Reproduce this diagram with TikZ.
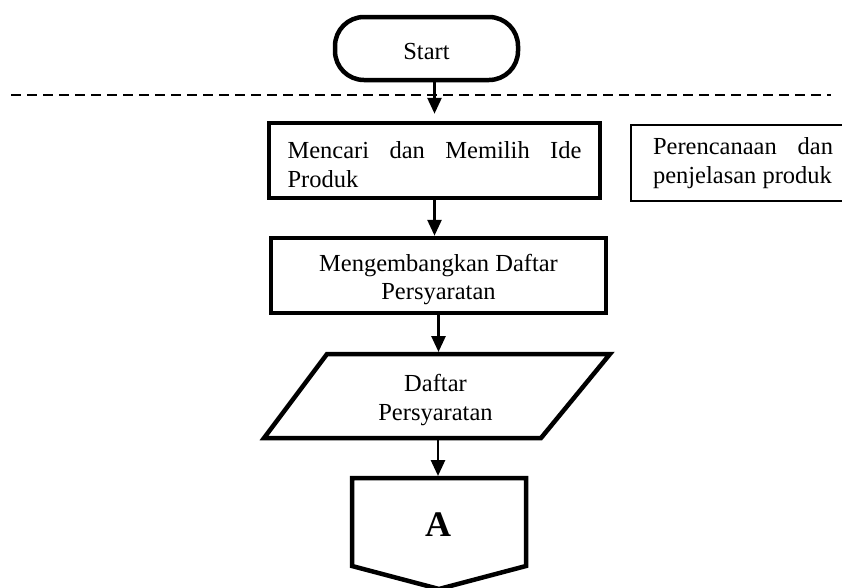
\documentclass[tikz,border=0pt]{standalone}
\usepackage{fontspec}
\setmainfont{Liberation Serif}
\usetikzlibrary{arrows.meta,calc}
\hyphenpenalty=10000
\exhyphenpenalty=10000
\newcommand{\lowertext}[2]{\raisebox{-#1}[\height][\depth]{#2}}
\tikzset{
  base/.style={font=\fontsize{24.5}{28.5}\selectfont},
  thickbox/.style={base, draw, line width=4.5pt, rectangle, inner sep=0pt},
  thinbox/.style={base, draw, line width=1.3pt, rectangle},
  arr/.style={line width=2.7pt, -{Triangle[width=14pt,length=16pt]}},
  sep/.style={line width=1.5pt, dash pattern=on 10pt off 6pt},
  shapeline/.style={line width=4.5pt, line join=miter}
}
\begin{document}
\begin{tikzpicture}[x=1pt,y=-1pt]
\fill[white] (0,0) rectangle (842,587);
\useasboundingbox (0,0) rectangle (842,587);

% separator
\coordinate (sepL) at (11,95);
\coordinate (sepR) at (831,95);
\draw[sep] (sepL) -- (sepR);

% Start
\node[thickbox, rounded corners=29pt, minimum width=183pt, minimum height=63pt] (start) at (426.5,48.5) {\lowertext{3pt}{Start}};

% box 1
\node[thickbox, minimum width=331pt, minimum height=75pt] (box1) at (434.5,160.5)
  {\lowertext{4pt}{\parbox{294pt}{Mencari dan Memilih Ide Produk}}};

% side box
\node[thinbox, minimum height=76pt, text width=180pt, inner xsep=22pt, align=justify] (side) at (743,163) {Perencanaan dan penjelasan produk};

% box 2
\node[thickbox, minimum width=335pt, minimum height=75pt] (box2) at (438.5,275.5)
  {\lowertext{4pt}{\parbox{320pt}{\centering Mengembangkan Daftar\\Persyaratan}}};

% parallelogram
\node[base, minimum height=88pt, minimum width=200pt, outer sep=0pt] (para) at (435.5,396)
  {\lowertext{4pt}{\parbox{250pt}{\centering Daftar\\Persyaratan}}};
\draw[shapeline] (327,354) -- (610,354) -- (541,438) -- (264,438) -- cycle;

% off-page connector
\node[font=\bfseries\fontsize{36}{40}\selectfont, minimum height=96pt, minimum width=174pt, outer sep=0pt] (A) at (438,524) {\lowertext{1pt}{A}};
\draw[shapeline] (352,478) -- (526,478) -- (526,566) -- (439,589) -- (352,566) -- cycle;

% connectors
\draw[arr, shorten >=7pt] (start.south -| box1.north) -- (box1.north);
\draw[arr] (box1.south) -- (box1.south |- box2.north);
\draw[arr] (box2.south) -- (box2.south |- para.north);
\draw[arr] (para.south -| A.north) -- (A.north);
\end{tikzpicture}
\end{document}
